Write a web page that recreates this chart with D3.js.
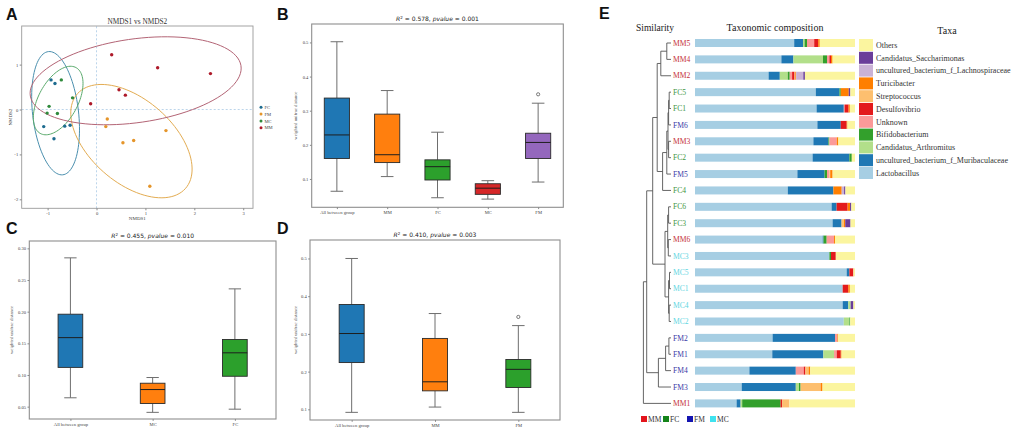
<!DOCTYPE html>
<html>
<head>
<meta charset="utf-8">
<script src="https://cdn.jsdelivr.net/npm/d3@7"></script>
<style>
body { margin: 0; background: #fff; }
svg { display: block; }
</style>
</head>
<body>
<script>
// ---- panel A: NMDS ----
var nmdsGroups = ["FC", "FM", "MC", "MM"];
var nmdsFC = [[-0.93, 0.66], [-0.85, 0.58], [-1.08, -0.38], [-0.87, -0.65], [-0.65, -0.37], [-0.54, -0.35]];
var nmdsFM = [[0.22, -0.21], [0.19, -0.38], [1.42, -0.47], [0.76, -0.69], [0.54, -0.74], [1.09, -1.71]];
var nmdsMC = [[-0.72, 0.66], [-0.49, 0.26], [-0.97, 0.07], [-1.01, -0.08], [-0.80, -0.09]];
var nmdsMM = [[0.31, 1.22], [1.25, 0.93], [2.33, 0.80], [0.46, 0.44], [0.59, 0.32], [-0.12, 0.13]];
// confidence ellipses: [cx, cy, rx, ry, angle deg]
var ellipseFC = [-0.837, -0.082, 0.47, 1.38, 6];
var ellipseFM = [0.714, -0.704, 1.53, 0.89, -46];
var ellipseMC = [-0.784, 0.20, 0.41, 0.82, -25];
var ellipseMM = [0.80, 0.64, 2.18, 0.93, 9];
var nmdsXTicks = [-1, 0, 1, 2, 3];
var nmdsYTicks = [-2, -1, 0, 1];

// ---- panels B, C, D: beta distance boxplots [low, q1, median, q3, high] ----
var groupsB = ["All between group", "MM", "FC", "MC", "FM"];
var statsB = [[0.064, 0.160, 0.229, 0.337, 0.502], [0.107, 0.148, 0.171, 0.290, 0.359],
  [0.045, 0.097, 0.136, 0.156, 0.237], [0.041, 0.055, 0.073, 0.086, 0.095], [0.091, 0.160, 0.207, 0.234, 0.322]];
var outliersB = [[], [], [], [], [0.348]];
var ticksB = [0.1, 0.2, 0.3, 0.4, 0.5];

var groupsC = ["All between group", "MC", "FC"];
var statsC = [[0.064, 0.112, 0.159, 0.196, 0.285], [0.041, 0.055, 0.077, 0.087, 0.096], [0.046, 0.098, 0.135, 0.156, 0.236]];
var outliersC = [[], [], []];
var ticksC = [0.05, 0.10, 0.15, 0.20, 0.25, 0.30];

var groupsD = ["All between group", "MM", "FM"];
var statsD = [[0.092, 0.224, 0.301, 0.378, 0.500], [0.106, 0.149, 0.173, 0.288, 0.354], [0.092, 0.158, 0.206, 0.232, 0.322]];
var outliersD = [[], [], [0.345]];
var ticksD = [0.1, 0.2, 0.3, 0.4, 0.5];

// ---- panel E: clustering + taxonomic composition ----
var sampleOrder = ["MM5", "MM4", "MM2", "FC5", "FC1", "FM6", "MM3", "FC2", "FM5", "FC4", "FC6", "FC3",
  "MM6", "MC3", "MC5", "MC1", "MC4", "MC2", "FM2", "FM1", "FM4", "FM3", "MM1"];
// merges: [a, b, height]; merge i is called "n" + i
var merges = [
  ["MM5", "MM4", 0.14], ["n0", "MM2", 0.34],
  ["FC5", "FC1", 0.06], ["n2", "FM6", 0.08], ["MM3", "FC2", 0.08], ["n3", "n4", 0.10],
  ["n5", "FM5", 0.14], ["n6", "FC4", 0.28], ["n1", "n7", 0.46],
  ["FC6", "FC3", 0.08], ["MM6", "MC3", 0.09], ["n9", "n10", 0.11],
  ["MC5", "MC1", 0.05], ["MC4", "MC2", 0.06], ["n12", "n13", 0.08], ["n11", "n14", 0.20],
  ["n8", "n15", 0.61],
  ["FM2", "FM1", 0.07], ["n17", "FM4", 0.18], ["n18", "FM3", 0.42],
  ["n16", "n19", 0.81], ["n20", "MM1", 0.92]
];
var taxa = ["Lactobacillus", "uncultured_bacterium_f_Muribaculaceae", "Candidatus_Arthromitus", "Bifidobacterium",
  "Unknown", "Desulfovibrio", "Streptococcus", "Turicibacter", "uncultured_bacterium_f_Lachnospiraceae",
  "Candidatus_Saccharimonas", "Others"];
var taxaColors = ["#a6cee3", "#1f78b4", "#b2df8a", "#33a02c", "#fb9a99", "#e31a1c", "#fdbf6f", "#ff7f00",
  "#cab2d6", "#6a3d9a", "#fbf59f"];
// relative abundance (%) per sample, same order as sampleOrder, columns as taxa
var composition = [
  [62, 5.5, 1, 1.5, 4.5, 2.5, 0, 1, 0, 0, 22],
  [54, 7.5, 18.5, 2.5, 1.5, 1, 0, 1, 0, 0, 14],
  [46, 7, 5, 1.2, 1.5, 1.5, 0.5, 0.5, 4.5, 1, 31.3],
  [75.5, 14.8, 0, 0.8, 0, 0, 0, 5, 0, 1, 2.9],
  [76, 17, 0, 0, 0.5, 2.5, 0, 0.8, 0, 0, 3.2],
  [76.5, 14.6, 0, 0, 0, 3.7, 0, 0.5, 0, 0, 4.7],
  [74, 9.4, 0, 0.6, 4.6, 0, 0, 1, 0, 0, 10.4],
  [73.5, 23, 0, 1.5, 0, 0, 0, 0, 0, 0, 2],
  [64, 17, 0, 1.5, 1.5, 0, 0.5, 1.5, 0, 0, 14],
  [58, 28.5, 0, 0, 0, 0, 0, 5.2, 1.5, 0.8, 6],
  [85.4, 3.1, 0, 0, 0, 6.9, 0, 1.5, 0, 0.8, 2.3],
  [86, 5.6, 0, 0, 0, 0, 1.5, 0.8, 0, 3.3, 2.8],
  [79.8, 0.5, 0, 2, 4.6, 0, 0, 0.6, 0, 0, 12.5],
  [84, 0, 0, 1, 0, 3, 0, 0, 0, 0, 12],
  [94.8, 1.7, 0, 0, 0, 2.5, 0, 0, 0, 0, 1],
  [92.3, 0, 0, 0, 0, 3.5, 0, 1, 0, 0, 3.2],
  [92.3, 3.5, 1.5, 0, 0, 0, 0, 0, 0, 1.7, 1],
  [93, 0, 3.5, 0.5, 0, 0, 0, 0, 0, 0, 3],
  [48.5, 39, 0, 0, 1.5, 0, 0, 0.5, 0, 0, 10.5],
  [48.3, 31.9, 6.7, 0, 1.7, 2.5, 0, 0.5, 0, 0, 8.4],
  [34, 29, 0, 0, 5, 1, 2, 1, 0, 0, 28],
  [29.2, 33.8, 2, 1, 0, 0, 12.5, 1.2, 0, 0, 20.3],
  [26, 2.5, 1, 24, 0, 1, 4.5, 0, 0, 0, 41]
];
var sampleGroups = ["MM", "FC", "FM", "MC"];

var serif = "'Liberation Serif', 'DejaVu Serif', serif";
var sans = "'DejaVu Sans', sans-serif";

var svg = d3.select("body").append("svg")
    .attr("width", 1021)
    .attr("height", 440);
svg.append("rect").attr("width", 1021).attr("height", 440).attr("fill", "#fff");

// panel letters
[["A", 6, 20], ["B", 277, 20], ["C", 6, 234], ["D", 277, 234], ["E", 599, 19]].forEach(function(l) {
    svg.append("text")
        .attr("x", l[1]).attr("y", l[2])
        .attr("font-family", "'Liberation Sans', Arial, sans-serif")
        .attr("font-weight", "bold")
        .attr("font-size", 16)
        .attr("fill", "#111")
        .text(l[0]);
});

// ================= Panel A =================
var ax = d3.scaleLinear().domain([-1.53, 3.2]).range([21.7, 253]);
var ay = d3.scaleLinear().domain([-2.2, 1.86]).range([208.3, 26]);
var gA = svg.append("g");

gA.append("line")
    .attr("x1", ax(0)).attr("x2", ax(0)).attr("y1", ay.range()[0]).attr("y2", ay.range()[1])
    .attr("stroke", "#a9c9e4").attr("stroke-dasharray", "2,2").attr("stroke-width", 0.8);
gA.append("line")
    .attr("y1", ay(0)).attr("y2", ay(0)).attr("x1", ax.range()[0]).attr("x2", ax.range()[1])
    .attr("stroke", "#a9c9e4").attr("stroke-dasharray", "2,2").attr("stroke-width", 0.8);

var nmdsSets = [
    {name: "FC", pts: nmdsFC, ell: ellipseFC, dot: "#1d6b8f", line: "#4a8fae"},
    {name: "FM", pts: nmdsFM, ell: ellipseFM, dot: "#e5952a", line: "#e3ac52"},
    {name: "MC", pts: nmdsMC, ell: ellipseMC, dot: "#2f8a3c", line: "#5aaa6c"},
    {name: "MM", pts: nmdsMM, ell: ellipseMM, dot: "#ae1a2a", line: "#b36475"}
];

function ellipsePoints(e) {
    var th = e[4] * Math.PI / 180;
    return d3.range(0, 101).map(function(i) {
        var t = i / 100 * 2 * Math.PI;
        var x = e[0] + e[2] * Math.cos(t) * Math.cos(th) - e[3] * Math.sin(t) * Math.sin(th);
        var y = e[1] + e[2] * Math.cos(t) * Math.sin(th) + e[3] * Math.sin(t) * Math.cos(th);
        return [ax(x), ay(y)];
    });
}

nmdsSets.forEach(function(s) {
    gA.append("path")
        .attr("d", d3.line()(ellipsePoints(s.ell)) + "Z")
        .attr("fill", "none")
        .attr("stroke", s.line)
        .attr("stroke-width", 1);
});
nmdsSets.forEach(function(s) {
    gA.selectAll(null).data(s.pts).enter().append("circle")
        .attr("cx", function(d) { return ax(d[0]); })
        .attr("cy", function(d) { return ay(d[1]); })
        .attr("r", 1.7)
        .attr("fill", s.dot);
});

gA.append("rect")
    .attr("x", ax.range()[0]).attr("y", ay.range()[1])
    .attr("width", ax.range()[1] - ax.range()[0])
    .attr("height", ay.range()[0] - ay.range()[1])
    .attr("fill", "none").attr("stroke", "#9a9a9a").attr("stroke-width", 0.9);

var intFmt = function(d) { return String(d); };
var axA = gA.append("g").attr("transform", "translate(0," + ay.range()[0] + ")")
    .call(d3.axisBottom(ax).tickValues(nmdsXTicks).tickFormat(intFmt).tickSize(2).tickPadding(1.5));
var ayA = gA.append("g").attr("transform", "translate(" + ax.range()[0] + ",0)")
    .call(d3.axisLeft(ay).tickValues(nmdsYTicks).tickFormat(intFmt).tickSize(2).tickPadding(1.5));
[axA, ayA].forEach(function(a) {
    a.select(".domain").remove();
    a.selectAll("line").attr("stroke", "#888");
    a.selectAll("text").attr("font-family", serif).attr("font-size", 4.6).attr("fill", "#444");
});

gA.append("text")
    .attr("x", (ax.range()[0] + ax.range()[1]) / 2).attr("y", 24)
    .attr("text-anchor", "middle")
    .attr("font-family", serif).attr("font-size", 7.3).attr("fill", "#333")
    .text("NMDS1 vs NMDS2");
gA.append("text")
    .attr("x", (ax.range()[0] + ax.range()[1]) / 2).attr("y", 220)
    .attr("text-anchor", "middle")
    .attr("font-family", serif).attr("font-size", 5).attr("fill", "#444")
    .text("NMDS1");
gA.append("text")
    .attr("transform", "translate(12," + (ay.range()[0] + ay.range()[1]) / 2 + ") rotate(-90)")
    .attr("text-anchor", "middle")
    .attr("font-family", serif).attr("font-size", 5).attr("fill", "#444")
    .text("NMDS2");

var legA = gA.selectAll(".legA").data(nmdsSets).enter().append("g")
    .attr("transform", function(d, i) { return "translate(261," + (107.3 + i * 6.8) + ")"; });
legA.append("circle").attr("r", 1.5).attr("fill", function(d) { return d.dot; });
legA.append("text")
    .attr("x", 3.5).attr("dy", "0.35em")
    .attr("font-family", serif).attr("font-size", 4.6).attr("fill", "#444")
    .text(function(d) { return d.name; });

// ================= Boxplot panels =================
var boxColors = ["#1f77b4", "#ff7f0e", "#2ca02c", "#d62728", "#9467bd"];

function boxPanel(frame, groups, stats, outliers, ticks, tickFmt, domain, r2, pval, ylabelX) {
    var g = svg.append("g");
    var x = d3.scaleLinear().domain([0.5, groups.length + 0.5]).range([frame.left, frame.right]);
    var y = d3.scaleLinear().domain(domain).range([frame.bottom, frame.top]);
    var unit = x(1) - x(0);
    var bw = (groups.length >= 5 ? 0.5 : 0.3) * unit;

    stats.forEach(function(s, i) {
        var cx = x(i + 1);
        g.append("line").attr("x1", cx).attr("x2", cx).attr("y1", y(s[0])).attr("y2", y(s[1]))
            .attr("stroke", "#6e6e6e").attr("stroke-width", 1);
        g.append("line").attr("x1", cx).attr("x2", cx).attr("y1", y(s[3])).attr("y2", y(s[4]))
            .attr("stroke", "#6e6e6e").attr("stroke-width", 1);
        [s[0], s[4]].forEach(function(v) {
            g.append("line").attr("x1", cx - bw / 4).attr("x2", cx + bw / 4).attr("y1", y(v)).attr("y2", y(v))
                .attr("stroke", "#6e6e6e").attr("stroke-width", 1);
        });
        g.append("rect")
            .attr("x", cx - bw / 2).attr("y", y(s[3]))
            .attr("width", bw).attr("height", y(s[1]) - y(s[3]))
            .attr("fill", boxColors[i]).attr("stroke", "#2a2a2a").attr("stroke-width", 0.9);
        g.append("line").attr("x1", cx - bw / 2).attr("x2", cx + bw / 2).attr("y1", y(s[2])).attr("y2", y(s[2]))
            .attr("stroke", "#1e1e1e").attr("stroke-width", 1);
        outliers[i].forEach(function(v) {
            g.append("circle").attr("cx", cx).attr("cy", y(v)).attr("r", 1.6)
                .attr("fill", "none").attr("stroke", "#444").attr("stroke-width", 0.7);
        });
    });

    g.append("rect")
        .attr("x", frame.left).attr("y", frame.top)
        .attr("width", frame.right - frame.left).attr("height", frame.bottom - frame.top)
        .attr("fill", "none").attr("stroke", "#8e8e8e").attr("stroke-width", 1.1);

    var xa = g.append("g").attr("transform", "translate(0," + frame.bottom + ")")
        .call(d3.axisBottom(x).tickValues(d3.range(1, groups.length + 1))
            .tickFormat(function(d) { return groups[d - 1]; }).tickSize(1.8).tickPadding(1.5));
    var ya = g.append("g").attr("transform", "translate(" + frame.left + ",0)")
        .call(d3.axisLeft(y).tickValues(ticks).tickFormat(d3.format(tickFmt)).tickSize(1.8).tickPadding(1.5));
    [xa, ya].forEach(function(a) {
        a.select(".domain").remove();
        a.selectAll("line").attr("stroke", "#888");
        a.selectAll("text").attr("font-family", serif).attr("font-size", 4.6).attr("fill", "#444");
    });

    var t = g.append("text")
        .attr("x", (frame.left + frame.right) / 2).attr("y", frame.top - 3)
        .attr("text-anchor", "middle")
        .attr("font-family", sans).attr("font-size", 6).attr("fill", "#222");
    t.append("tspan").attr("font-style", "italic").text("R");
    t.append("tspan").attr("font-size", 4).attr("dy", -2.2).text("2");
    t.append("tspan").attr("dy", 2.2).text(" = " + r2 + ", ");
    t.append("tspan").attr("font-style", "italic").text("pvalue");
    t.append("tspan").text(" = " + pval);

    g.append("text")
        .attr("transform", "translate(" + ylabelX + "," + (frame.top + frame.bottom) / 2 + ") rotate(-90)")
        .attr("text-anchor", "middle")
        .attr("font-family", serif).attr("font-size", 4.7).attr("fill", "#555")
        .text("weighted unifrac distance");
}

boxPanel({left: 311.7, right: 563.3, top: 24, bottom: 207.3}, groupsB, statsB, outliersB,
    ticksB, ".1f", [0.017, 0.554], "0.578", "0.001", 297);
boxPanel({left: 29.3, right: 276, top: 241, bottom: 419}, groupsC, statsC, outliersC,
    ticksC, ".2f", [0.0305, 0.3116], "0.455", "0.010", 12.7);
boxPanel({left: 310, right: 560, top: 240, bottom: 420}, groupsD, statsD, outliersD,
    ticksD, ".1f", [0.0717, 0.549], "0.410", "0.003", 297);

// ================= Panel E =================
var gE = svg.append("g");
var yE = d3.scalePoint().domain(sampleOrder).range([43, 403.4]);
var xBar = d3.scaleLinear().domain([0, 100]).range([695, 855]);
var xTree = d3.scaleLinear().domain([0, 1]).range([671, 641]);
var groupColor = d3.scaleOrdinal().domain(sampleGroups).range(["#c5313a", "#3f963f", "#3a3aa6", "#5fd6df"]);
var groupKey = d3.scaleOrdinal().domain(sampleGroups).range(["#e3141c", "#14841a", "#1414b0", "#3fe2ef"]);

// dendrogram
var nodePos = {};
sampleOrder.forEach(function(s) { nodePos[s] = {x: xTree(0), y: yE(s)}; });
var treeSegs = [];
merges.forEach(function(m, i) {
    var a = nodePos[m[0]], b = nodePos[m[1]];
    var nx = xTree(m[2]);
    treeSegs.push([[a.x, a.y], [nx, a.y], [nx, b.y], [b.x, b.y]]);
    nodePos["n" + i] = {x: nx, y: (a.y + b.y) / 2};
});
gE.selectAll(".branch").data(treeSegs).enter().append("path")
    .attr("d", d3.line())
    .attr("fill", "none")
    .attr("stroke", "#555")
    .attr("stroke-width", 0.9);

gE.selectAll(".leaf").data(sampleOrder).enter().append("text")
    .attr("x", 673).attr("y", function(d) { return yE(d); })
    .attr("dy", "0.35em")
    .attr("font-family", serif).attr("font-size", 7.6)
    .attr("fill", function(d) { return groupColor(d.slice(0, 2)); })
    .text(function(d) { return d; });

// stacked composition bars
var compData = sampleOrder.map(function(s, i) {
    var o = {sample: s};
    taxa.forEach(function(t, j) { o[t] = composition[i][j]; });
    return o;
});
var stacked = d3.stack().keys(taxa)(compData);
gE.selectAll(".layer").data(stacked).enter().append("g")
    .attr("fill", function(d, i) { return taxaColors[i]; })
  .selectAll("rect").data(function(d) { return d; }).enter().append("rect")
    .attr("x", function(d) { return xBar(d[0]); })
    .attr("width", function(d) { return Math.max(0, xBar(d[1]) - xBar(d[0])); })
    .attr("y", function(d) { return yE(d.data.sample) - 4; })
    .attr("height", 8);

// headers
gE.append("text").attr("x", 636).attr("y", 31)
    .attr("font-family", serif).attr("font-size", 9.5).attr("fill", "#222").text("Similarity");
gE.append("text").attr("x", 775).attr("y", 31).attr("text-anchor", "middle")
    .attr("font-family", serif).attr("font-size", 10).attr("fill", "#222").text("Taxonomic composition");
gE.append("text").attr("x", 947).attr("y", 34).attr("text-anchor", "middle")
    .attr("font-family", serif).attr("font-size", 10).attr("fill", "#222").text("Taxa");

// taxa legend (top = last stacked layer)
var legendTaxa = taxa.slice().reverse();
var legE = gE.selectAll(".legE").data(legendTaxa).enter().append("g")
    .attr("transform", function(d, i) { return "translate(859," + (39 + i * 12.8) + ")"; });
legE.append("rect").attr("width", 14).attr("height", 12)
    .attr("fill", function(d) { return taxaColors[taxa.indexOf(d)]; });
legE.append("text").attr("x", 17).attr("y", 6).attr("dy", "0.35em")
    .attr("font-family", serif).attr("font-size", 8).attr("fill", "#333")
    .text(function(d) { return d; });

// group key
var keyX = [641, 663, 687, 710];
var keyE = gE.selectAll(".keyE").data(sampleGroups).enter().append("g")
    .attr("transform", function(d, i) { return "translate(" + keyX[i] + ",419)"; });
keyE.append("rect").attr("y", -3).attr("width", 6).attr("height", 6).attr("fill", function(d) { return groupKey(d); });
keyE.append("text").attr("x", 7).attr("dy", "0.35em")
    .attr("font-family", serif).attr("font-size", 7.5).attr("fill", "#333")
    .text(function(d) { return d; });
</script>
</body>
</html>
